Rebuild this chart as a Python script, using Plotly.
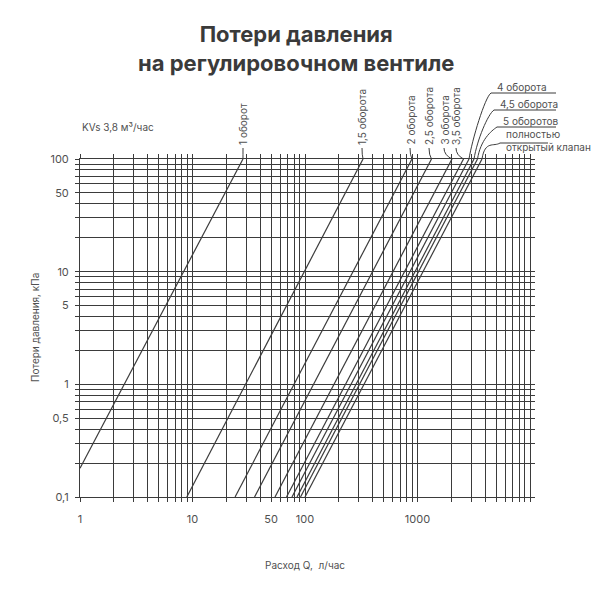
import math
import plotly.graph_objects as go

# ---------------- data ----------------
turn_labels = ["1 оборот", "1,5 оборота", "2 оборота", "2,5 оборота", "3 оборота",
               "3,5 оборота", "4 оборота", "4,5 оборота", "5 оборотов",
               "полностью<br>открытый клапан"]
flow_start = [1, 8.9, 23.9, 35.6, 54.1, 68.5, 76.6, 84.9, 91.2, 100]      # л/час
dp_start = [0.18, 0.1, 0.1, 0.1, 0.1, 0.1, 0.1, 0.1, 0.1, 0.1]            # кПа
flow_end = [28.1, 328, 893, 1332, 2026, 2564, 2870, 3180, 3415, 3743]      # л/час
dp_end = [100, 100, 100, 100, 100, 100, 100, 100, 100, 100]              # кПа

x_label_values = [1, 10, 50, 100, 1000]
x_label_text = ["1", "10", "50", "100", "1000"]
y_label_values = [0.1, 0.5, 1, 5, 10, 50, 100]
y_label_text = ["0,1", "0,5", "1", "5", "10", "50", "100"]

x_decades = [1, 10, 100, 1000]
y_decades = [0.1, 1, 10]
mantissas = [1, 2, 3, 4, 5, 6, 7, 8, 9]

# ---------------- layout constants ----------------
W, H = 600, 600
PAGE_OFF = 8                      # default body margin of the html page
L, R, T, B = 80, 530, 159, 497    # plot area in the photographed page
INK = "#3b3b3b"
TXT = "#505050"
FONT = "Inter"

def xp(px):  # page pixel -> paper
    return (px - L) / (R - L)

def yp(py):
    return (B - py) / (B - T)

XMIN, XMAX = 1, 10000
YMIN, YMAX = 0.1, 100

def q2px(q):
    return L + (math.log10(q) - math.log10(XMIN)) / (math.log10(XMAX) - math.log10(XMIN)) * (R - L)

x_ticks = [m * d for d in x_decades for m in mantissas] + [XMAX]
y_ticks = [m * d for d in y_decades for m in mantissas] + [YMAX]

def tick_text(vals, lab_vals, lab_txt):
    out = []
    for v in vals:
        t = ""
        for lv, lt in zip(lab_vals, lab_txt):
            if abs(v - lv) < 1e-9 * max(1, lv):
                t = lt
        out.append(t)
    return out

fig = go.Figure()
for i in range(len(turn_labels)):
    fig.add_trace(go.Scatter(x=[flow_start[i], flow_end[i]], y=[dp_start[i], dp_end[i]],
                             mode="lines", line=dict(color=INK, width=1.2),
                             hoverinfo="skip", showlegend=False))

annotations = []
shapes = []

# rotated labels with short leaders
rot_label_px = [243, 362, 410, 429, 444, 456]
for i, lx in enumerate(rot_label_px):
    top_px = q2px(flow_end[i])
    annotations.append(dict(x=xp(lx), y=yp(147), xref="paper", yref="paper",
                            text=turn_labels[i], textangle=-90, showarrow=False,
                            xanchor="center", yanchor="bottom",
                            font=dict(family=FONT, size=10, color=TXT)))
    shapes.append(dict(type="path", xref="paper", yref="paper",
                       path=f"M {xp(lx)},{yp(148)} Q {xp(lx)},{yp(155)} {xp(top_px)},{yp(T)}",
                       line=dict(color=INK, width=1)))

# horizontal labels with underline leaders
h_text_y = [87, 104, 121, 141]
h_under_y = [93, 110, 127, 143]
h_under_left = [491, 494, 497, 500]
h_under_right = [556, 556, 556, 548]
for k, i in enumerate(range(6, 10)):
    top_px = q2px(flow_end[i])
    annotations.append(dict(x=xp(h_under_left[k] + 4), y=yp(h_text_y[k]), xref="paper", yref="paper",
                            text=turn_labels[i], showarrow=False, xanchor="left", yanchor="middle",
                            align="left",
                            font=dict(family=FONT, size=10, color=TXT)))
    ul, uy = h_under_left[k], h_under_y[k]
    path = (f"M {xp(h_under_right[k])},{yp(uy)} L {xp(ul)},{yp(uy)} "
            f"C {xp(ul - 6)},{yp(uy + 4)} {xp(top_px + 3)},{yp(140)} {xp(top_px)},{yp(T)}")
    shapes.append(dict(type="path", xref="paper", yref="paper", path=path,
                       line=dict(color=INK, width=1)))

# titles and captions
annotations.append(dict(x=xp(296), y=yp(48), xref="paper", yref="paper",
                        text="<b>Потери давления<br>на регулировочном вентиле</b>",
                        showarrow=False, xanchor="center", yanchor="middle",
                        font=dict(family=FONT, size=22, color="#3a3a3a")))
annotations.append(dict(x=xp(80), y=yp(127), xref="paper", yref="paper",
                        text="KVs 3,8 м³/час", showarrow=False, xanchor="left", yanchor="middle",
                        font=dict(family=FONT, size=10, color=TXT)))
annotations.append(dict(x=xp(305), y=yp(565), xref="paper", yref="paper",
                        text="Расход Q,  л/час", showarrow=False, xanchor="center", yanchor="middle",
                        font=dict(family=FONT, size=10, color=TXT)))
annotations.append(dict(x=xp(35), y=yp(328), xref="paper", yref="paper",
                        text="Потери давления, кПа", showarrow=False, textangle=-90,
                        xanchor="center", yanchor="middle",
                        font=dict(family=FONT, size=10, color=TXT)))

axis_common = dict(type="log", showgrid=True, gridcolor=INK, gridwidth=1,
                   showline=True, linecolor=INK, linewidth=1, mirror="ticks",
                   ticks="outside", ticklen=4, tickcolor=INK, tickwidth=1,
                   tickmode="array", zeroline=False,
                   tickfont=dict(family=FONT, size=11, color=TXT))

fig.update_layout(
    width=W, height=H,
    margin=dict(l=L - PAGE_OFF, r=W - (R - PAGE_OFF), t=T - PAGE_OFF, b=H - (B - PAGE_OFF)),
    paper_bgcolor="white", plot_bgcolor="white",
    xaxis=dict(axis_common, range=[math.log10(XMIN), math.log10(XMAX)],
               tickvals=x_ticks, ticktext=tick_text(x_ticks, x_label_values, x_label_text),
               ticklabelstandoff=8),
    yaxis=dict(axis_common, range=[math.log10(YMIN), math.log10(YMAX)],
               tickvals=y_ticks, ticktext=tick_text(y_ticks, y_label_values, y_label_text),
               ticklabelstandoff=4),
    annotations=annotations, shapes=shapes, showlegend=False,
)

fig.write_html("out.html")
